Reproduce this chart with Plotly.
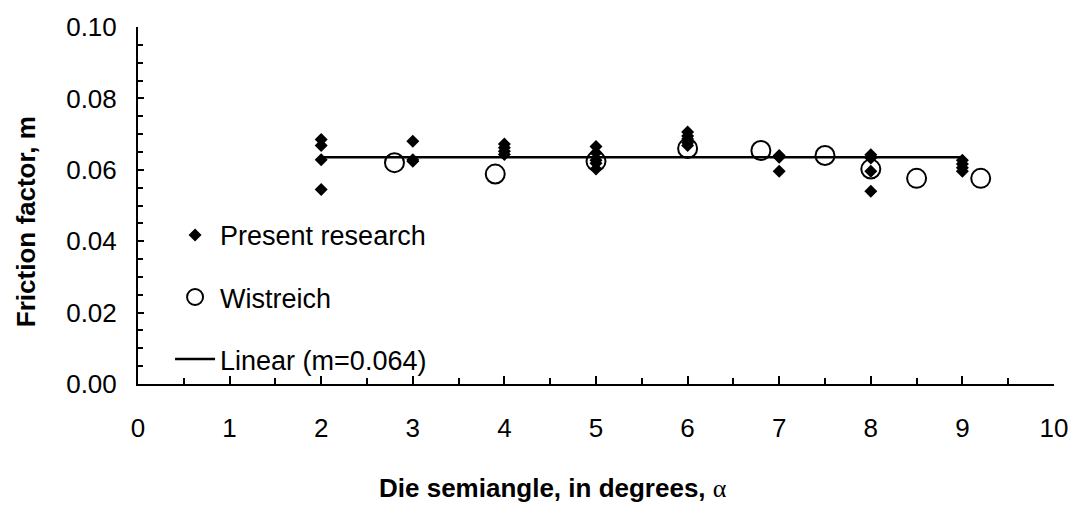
import plotly.graph_objects as go

# Present research (diamonds)
present_x = [2, 2, 2, 2, 3, 3, 3,
             4, 4, 4, 4,
             5, 5, 5, 5, 5,
             6, 6, 6, 6, 6,
             7, 7, 7,
             8, 8, 8, 8,
             9, 9, 9, 9]
present_y = [0.0685, 0.0668, 0.0628, 0.0545, 0.0680, 0.0628, 0.0624,
             0.0672, 0.0662, 0.0652, 0.0643,
             0.0665, 0.0648, 0.0627, 0.0618, 0.0602,
             0.0706, 0.0695, 0.0686, 0.0676, 0.0668,
             0.0640, 0.0635, 0.0596,
             0.0642, 0.0633, 0.0596, 0.0540,
             0.0627, 0.0616, 0.0606, 0.0596]

# Wistreich (open circles)
wis_x = [2.8, 3.9, 5.0, 6.0, 6.8, 7.5, 8.0, 8.5, 9.2]
wis_y = [0.0620, 0.0588, 0.0624, 0.0660, 0.0654, 0.0640, 0.0602, 0.0576, 0.0576]

# Linear fit (m = 0.064)
lin_x = [2, 9]
lin_y = [0.0635, 0.0635]

x_ticks = [0, 1, 2, 3, 4, 5, 6, 7, 8, 9, 10]
y_ticks = [0.00, 0.02, 0.04, 0.06, 0.08, 0.10]

FONT = "Liberation Sans, Arial, sans-serif"

fig = go.Figure()
fig.add_trace(go.Scatter(
    x=lin_x, y=lin_y, mode="lines", name="Linear (m=0.064)",
    line=dict(color="black", width=2.5), legendgroup="c", legendrank=3))
fig.add_trace(go.Scatter(
    x=present_x, y=present_y, mode="markers", name="Present research",
    marker=dict(symbol="diamond", size=10, color="black"),
    legendgroup="a", legendrank=1))
fig.add_trace(go.Scatter(
    x=wis_x, y=wis_y, mode="markers", name="Wistreich",
    marker=dict(symbol="circle-open", size=19, color="black",
                line=dict(color="black", width=2)),
    legendgroup="b", legendrank=2))

fig.update_layout(
    width=1080, height=512,
    margin=dict(l=138, r=21, t=18, b=128),
    paper_bgcolor="white", plot_bgcolor="white",
    font=dict(family=FONT, size=26, color="black"),
    showlegend=True,
    legend=dict(x=0.035, y=0.485, xanchor="left", yanchor="top",
                bgcolor="rgba(0,0,0,0)", tracegroupgap=24,
                font=dict(size=27), itemwidth=40),
    xaxis=dict(
        range=[0, 10], tickvals=x_ticks, ticks="inside", ticklen=8,
        tickwidth=2, tickcolor="black", showline=True, linecolor="black",
        linewidth=2, showgrid=False, zeroline=False,
        minor=dict(ticks="inside", dtick=0.5, ticklen=6, tickwidth=2,
                   tickcolor="black"),
        tickfont=dict(size=26), ticklabelstandoff=20,
    ),
    yaxis=dict(
        range=[0, 0.10], tickvals=y_ticks, tickformat=".2f",
        ticks="inside", ticklen=6, tickwidth=2, tickcolor="black",
        showline=True, linecolor="black", linewidth=2, showgrid=False,
        zeroline=False,
        minor=dict(ticks="inside", dtick=0.005, ticklen=5, tickwidth=1.5,
                   tickcolor="black"),
        tickfont=dict(size=26), ticklabelstandoff=14,
    ),
    annotations=[
        dict(text="<b>Die semiangle, in degrees, </b>"
                  "<span style=\"font-family:Liberation Serif\">α</span>",
             xref="paper", yref="paper", x=0.453, y=-0.29,
             xanchor="center", yanchor="middle", showarrow=False,
             font=dict(size=26)),
        dict(text="<b>Friction factor, m</b>", textangle=-90,
             xref="paper", yref="paper", x=-0.1227, y=0.455,
             xanchor="center", yanchor="middle", showarrow=False,
             font=dict(size=26)),
    ],
)

fig.write_html("out.html")
